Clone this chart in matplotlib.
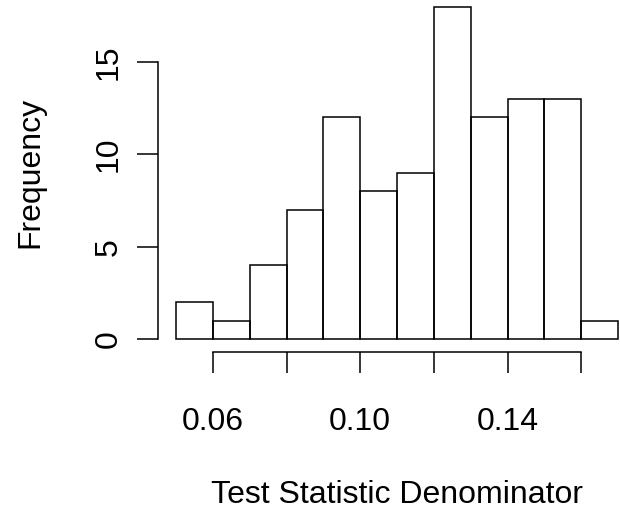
import matplotlib
matplotlib.use("Agg")
import matplotlib.pyplot as plt
import numpy as np

# Data
bin_edges = [0.05, 0.06, 0.07, 0.08, 0.09, 0.10, 0.11, 0.12, 0.13, 0.14, 0.15, 0.16, 0.17]
counts = [2, 1, 4, 7, 12, 8, 9, 18, 12, 13, 13, 1]
x_ticks = [0.06, 0.08, 0.10, 0.12, 0.14, 0.16]
x_tick_labels = ["0.06", "", "0.10", "", "0.14", ""]
y_ticks = [0, 5, 10, 15]
y_tick_labels = ["0", "5", "10", "15"]
x_label = "Test Statistic Denominator"
y_label = "Frequency"

plt.rcParams['font.family'] = ['Liberation Sans', 'DejaVu Sans']
FS = 23
LW = 1.1
PX = 0.72  # points per pixel at dpi 100

W, H = 620, 511
fig = plt.figure(figsize=(W / 100, H / 100), dpi=100)
left_px, right_px = 176, 618
top_px, base_px = 6.7, 339
ax = fig.add_axes([left_px / W, (H - base_px) / H,
                   (right_px - left_px) / W, (base_px - top_px) / H])

widths = np.diff(bin_edges)
ax.bar(bin_edges[:-1], counts, width=widths, align='edge', fill=False,
       edgecolor='black', linewidth=LW, clip_on=False)

ax.set_xlim(bin_edges[0], bin_edges[-1])
ax.set_ylim(0, 18)

for s in ['top', 'right']:
    ax.spines[s].set_visible(False)
ax.spines['left'].set_position(('outward', 18 * PX))
ax.spines['bottom'].set_position(('outward', 13 * PX))
ax.spines['left'].set_bounds(0, 15)
ax.spines['bottom'].set_bounds(0.06, 0.16)
for s in ['left', 'bottom']:
    ax.spines[s].set_linewidth(LW)
    ax.spines[s].set_capstyle('projecting')

ax.set_xticks(x_ticks)
ax.set_xticklabels(x_tick_labels, fontsize=FS)
ax.set_yticks(y_ticks)
ax.set_yticklabels(y_tick_labels, fontsize=FS)
ax.tick_params(axis='both', direction='out', length=21 * PX, width=LW)
ax.tick_params(axis='x', pad=57 * PX - 21 * PX + 21 * PX - 21 * PX)
ax.tick_params(axis='x', pad=(430 - 373) * PX)
ax.tick_params(axis='y', pad=(137 - 117) * PX)

for lab in ax.get_xticklabels():
    lab.set_va('baseline')
for lab in ax.get_yticklabels():
    lab.set_rotation(90)
    lab.set_rotation_mode('anchor')
    lab.set_ha('center')
    lab.set_va('baseline')

ax.set_xlabel(x_label, fontsize=FS)
ax.xaxis.label.set_va('baseline')
ax.xaxis.set_label_coords(0.5, (8 - (H - base_px)) / (base_px - top_px))

ax.set_ylabel(y_label, fontsize=FS)
ax.yaxis.label.set_rotation_mode('anchor')
ax.yaxis.label.set_ha('center')
ax.yaxis.label.set_va('baseline')
ax.yaxis.set_label_coords((38 - left_px) / (right_px - left_px), 0.5)

fig.savefig("out.png", dpi=100)
